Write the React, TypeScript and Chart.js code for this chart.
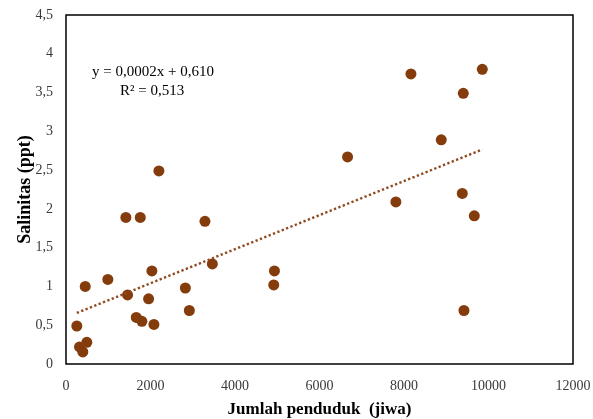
import React, { useEffect, useRef } from 'react';
import { Chart, registerables } from 'chart.js';

Chart.register(...registerables);

// Jumlah penduduk (jiwa)
const populationJiwa = [
  256, 320, 398, 493, 455, 990, 1417, 1457, 1758, 1663,
  1796, 1955, 2033, 2081, 2199, 2825, 2919, 3289, 3464, 4934,
  4917, 6664, 7808, 8164, 8882, 9403, 9379, 9419, 9664, 9853,
];
// Salinitas (ppt)
const salinityPpt = [
  0.49, 0.22, 0.155, 0.28, 1.0, 1.09, 1.89, 0.89, 1.89, 0.6,
  0.55, 0.84, 1.2, 0.51, 2.49, 0.98, 0.69, 1.84, 1.29, 1.2,
  1.02, 2.67, 2.09, 3.74, 2.89, 3.49, 2.2, 0.69, 1.91, 3.8,
];

const xTickLabels = ['0', '2000', '4000', '6000', '8000', '10000', '12000'];
const yTickLabels = ['0', '0,5', '1', '1,5', '2', '2,5', '3', '3,5', '4', '4,5'];

const equationText = 'y = 0,0002x + 0,610';
const rSquaredText = 'R² = 0,513';

const xTitle = 'Jumlah penduduk  (jiwa)';
const yTitle = 'Salinitas (ppt)';

const BROWN = '#843C0C';

function linearFit(xs: number[], ys: number[]) {
  const n = xs.length;
  const mx = xs.reduce((a, b) => a + b, 0) / n;
  const my = ys.reduce((a, b) => a + b, 0) / n;
  let sxy = 0;
  let sxx = 0;
  for (let i = 0; i < n; i++) {
    sxy += (xs[i] - mx) * (ys[i] - my);
    sxx += (xs[i] - mx) * (xs[i] - mx);
  }
  const slope = sxy / sxx;
  return { slope, intercept: my - slope * mx };
}

function zeroPadding(scale: any) {
  scale.paddingLeft = 0;
  scale.paddingRight = 0;
  scale.paddingTop = 0;
  scale.paddingBottom = 0;
}

export default function App() {
  const canvasRef = useRef<HTMLCanvasElement | null>(null);

  useEffect(() => {
    if (!canvasRef.current) return;
    const points = populationJiwa.map((x, i) => ({ x, y: salinityPpt[i] }));
    const { slope, intercept } = linearFit(populationJiwa, salinityPpt);
    const minX = Math.min(...populationJiwa);
    const maxX = Math.max(...populationJiwa);
    const trend = [
      { x: minX, y: intercept + slope * minX },
      { x: maxX, y: intercept + slope * maxX },
    ];

    const framePlugin = {
      id: 'frame',
      afterDatasetsDraw(chart: any) {
        const { ctx, chartArea } = chart;
        ctx.save();
        ctx.strokeStyle = '#000';
        ctx.lineWidth = 1.5;
        ctx.strokeRect(chartArea.left, chartArea.top, chartArea.right - chartArea.left, chartArea.bottom - chartArea.top);
        ctx.restore();
      },
    };

    const annotationPlugin = {
      id: 'eqn',
      afterDraw(chart: any) {
        const { ctx, scales } = chart;
        ctx.save();
        ctx.fillStyle = '#000';
        ctx.font = '15px "Liberation Serif", "Times New Roman", serif';
        ctx.textAlign = 'center';
        ctx.textBaseline = 'middle';
        ctx.fillText(equationText, scales.x.getPixelForValue(2060), scales.y.getPixelForValue(3.76));
        ctx.fillText(rSquaredText, scales.x.getPixelForValue(2040), scales.y.getPixelForValue(3.52));
        ctx.restore();
      },
    };

    const chart = new Chart(canvasRef.current, {
      type: 'scatter',
      data: {
        datasets: [
          {
            type: 'line',
            data: trend,
            borderColor: '#8E4A1E',
            borderWidth: 2.4,
            borderDash: [2.3, 2.4],
            pointRadius: 0,
            fill: false,
          } as any,
          {
            data: points,
            backgroundColor: BROWN,
            borderColor: BROWN,
            borderWidth: 0,
            pointRadius: 5.5,
          },
        ],
      },
      options: {
        animation: false,
        responsive: false,
        layout: { padding: { left: 0, right: 20, top: 15, bottom: 0 } },
        plugins: { legend: { display: false }, tooltip: { enabled: false } },
        scales: {
          x: {
            type: 'linear',
            min: 0,
            max: 12000,
            grid: { display: false, drawTicks: false },
            border: { display: false },
            ticks: {
              stepSize: 2000,
              padding: 14,
              color: '#3a3a3a',
              font: { family: '"Liberation Serif", "Times New Roman", serif', size: 14 },
              maxRotation: 0,
              callback: (_v: any, i: number) => xTickLabels[i],
            },
            title: {
              display: true,
              text: xTitle,
              color: '#000',
              font: { family: '"Liberation Serif", "Times New Roman", serif', size: 17, weight: 'bold', lineHeight: 1 },
              padding: { top: 0, bottom: 0.5 },
            },
            afterFit(scale: any) {
              scale.height = 55;
              zeroPadding(scale);
            },
          },
          y: {
            type: 'linear',
            min: 0,
            max: 4.5,
            grid: { display: false, drawTicks: false },
            border: { display: false },
            ticks: {
              stepSize: 0.5,
              padding: 13,
              color: '#3a3a3a',
              font: { family: '"Liberation Serif", "Times New Roman", serif', size: 14 },
              callback: (_v: any, i: number) => yTickLabels[i],
            },
            title: {
              display: true,
              text: yTitle,
              color: '#000',
              font: { family: '"Liberation Serif", "Times New Roman", serif', size: 18, weight: 'bold', lineHeight: 1.2 },
              padding: { top: 15, bottom: 0 },
            },
            afterFit(scale: any) {
              scale.width = 66;
              zeroPadding(scale);
            },
          },
        },
      } as any,
      plugins: [framePlugin, annotationPlugin],
    });
    return () => chart.destroy();
  }, []);

  return (
    <div style={{ position: 'fixed', left: 0, top: 0, width: 593, height: 419, background: '#fff' }}>
      <canvas ref={canvasRef} width={593} height={419} style={{ display: 'block' }} />
    </div>
  );
}
